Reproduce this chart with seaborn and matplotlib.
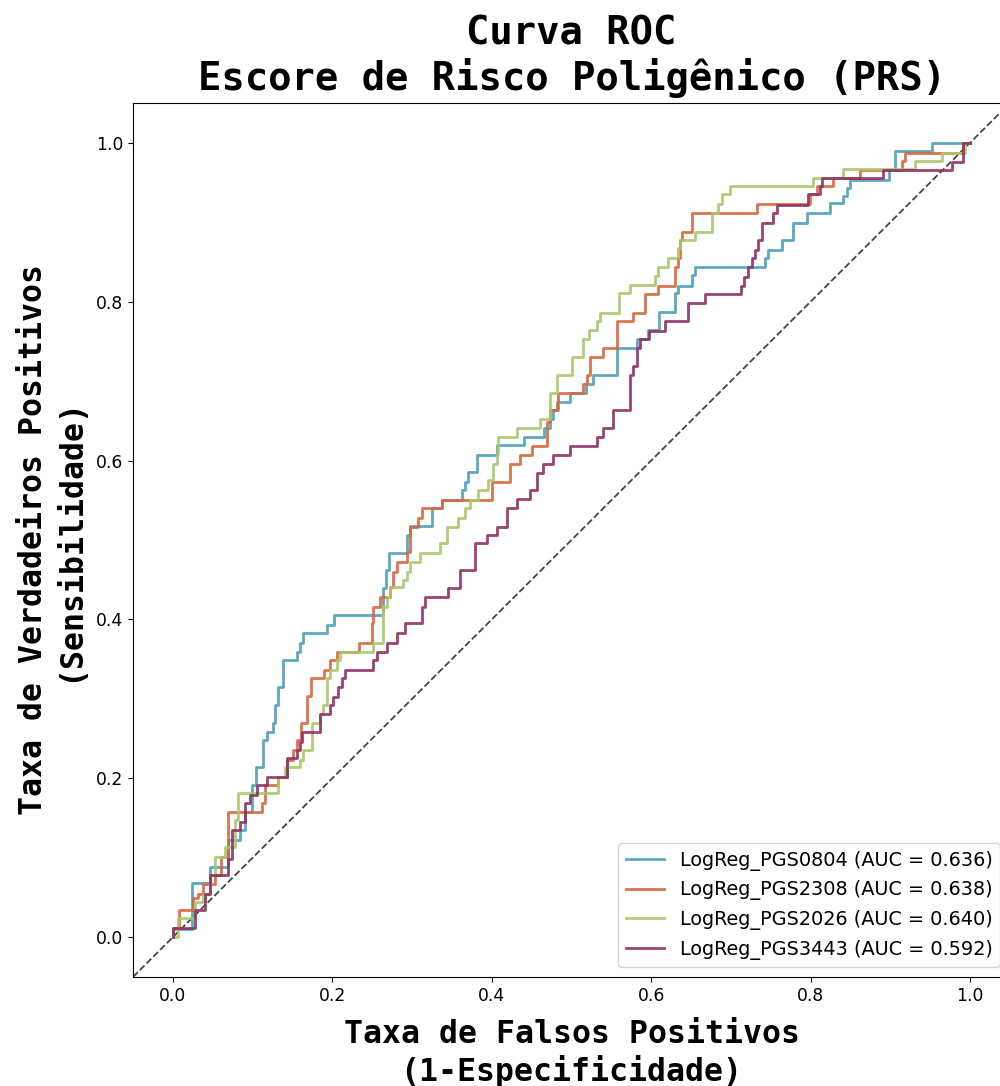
import matplotlib
matplotlib.use("Agg")
import matplotlib.pyplot as plt
import pandas as pd
import seaborn as sns

models = ["LogReg_PGS0804", "LogReg_PGS2308", "LogReg_PGS2026", "LogReg_PGS3443"]
auc_values = [0.636, 0.638, 0.640, 0.592]
colors = ["#4BA0B9", "#D9663B", "#A9C86C", "#8E2F62"]

# ROC staircases: each (fpr, tpr) pair is the right end of a horizontal run;
# the curve climbs vertically at the previous fpr before each run.
fpr_0804 = [0.024, 0.046, 0.069, 0.084, 0.090, 0.099, 0.104, 0.113, 0.118, 0.125,
            0.128, 0.132, 0.138, 0.156, 0.159, 0.163, 0.193, 0.202, 0.263, 0.267,
            0.271, 0.294, 0.297, 0.325, 0.338, 0.363, 0.366, 0.370, 0.381, 0.407,
            0.440, 0.466, 0.473, 0.477, 0.483, 0.498, 0.518, 0.527, 0.557, 0.582,
            0.596, 0.610, 0.630, 0.634, 0.651, 0.655, 0.743, 0.747, 0.764, 0.778,
            0.795, 0.824, 0.841, 0.846, 0.849, 0.898, 0.906, 0.952, 1.000]
tpr_0804 = [0.010, 0.068, 0.089, 0.122, 0.135, 0.157, 0.191, 0.214, 0.248, 0.258,
            0.270, 0.292, 0.315, 0.349, 0.359, 0.370, 0.383, 0.393, 0.406, 0.440,
            0.462, 0.484, 0.506, 0.518, 0.540, 0.550, 0.563, 0.573, 0.586, 0.607,
            0.620, 0.630, 0.641, 0.652, 0.664, 0.674, 0.685, 0.696, 0.708, 0.742,
            0.753, 0.764, 0.787, 0.811, 0.820, 0.834, 0.844, 0.855, 0.865, 0.877,
            0.899, 0.911, 0.924, 0.933, 0.943, 0.953, 0.965, 0.989, 1.000]

fpr_2308 = [0.008, 0.025, 0.031, 0.038, 0.053, 0.061, 0.069, 0.112, 0.115, 0.132,
            0.143, 0.151, 0.156, 0.161, 0.168, 0.173, 0.189, 0.197, 0.206, 0.233,
            0.250, 0.251, 0.260, 0.272, 0.276, 0.281, 0.294, 0.297, 0.307, 0.312,
            0.338, 0.400, 0.423, 0.435, 0.450, 0.469, 0.473, 0.482, 0.483, 0.514,
            0.519, 0.523, 0.540, 0.557, 0.577, 0.592, 0.609, 0.630, 0.634, 0.636,
            0.639, 0.651, 0.733, 0.799, 0.808, 0.828, 0.862, 0.915, 0.918, 0.991,
            1.000]
tpr_2308 = [0.011, 0.034, 0.049, 0.055, 0.067, 0.078, 0.101, 0.157, 0.169, 0.191,
            0.202, 0.223, 0.236, 0.248, 0.270, 0.304, 0.326, 0.336, 0.349, 0.359,
            0.370, 0.395, 0.416, 0.428, 0.441, 0.460, 0.472, 0.485, 0.516, 0.528,
            0.540, 0.550, 0.573, 0.596, 0.607, 0.618, 0.649, 0.664, 0.674, 0.685,
            0.696, 0.708, 0.730, 0.742, 0.775, 0.786, 0.809, 0.820, 0.844, 0.855,
            0.878, 0.888, 0.912, 0.923, 0.935, 0.945, 0.955, 0.965, 0.977, 0.987,
            1.000]

fpr_2026 = [0.006, 0.028, 0.038, 0.046, 0.053, 0.065, 0.078, 0.082, 0.132, 0.141,
            0.159, 0.163, 0.174, 0.184, 0.188, 0.193, 0.197, 0.206, 0.210, 0.251,
            0.263, 0.269, 0.272, 0.289, 0.294, 0.297, 0.310, 0.335, 0.344, 0.358,
            0.366, 0.373, 0.383, 0.395, 0.401, 0.407, 0.408, 0.432, 0.460, 0.473,
            0.482, 0.501, 0.514, 0.522, 0.532, 0.536, 0.560, 0.573, 0.605, 0.609,
            0.621, 0.634, 0.636, 0.655, 0.676, 0.684, 0.689, 0.699, 0.803, 0.841,
            0.931, 0.965, 0.994, 1.000]
tpr_2026 = [0.000, 0.024, 0.044, 0.055, 0.078, 0.101, 0.113, 0.147, 0.181, 0.202,
            0.214, 0.223, 0.236, 0.270, 0.281, 0.292, 0.326, 0.336, 0.349, 0.359,
            0.370, 0.416, 0.428, 0.441, 0.450, 0.460, 0.472, 0.484, 0.496, 0.516,
            0.528, 0.540, 0.550, 0.563, 0.576, 0.596, 0.610, 0.630, 0.641, 0.652,
            0.685, 0.708, 0.730, 0.753, 0.764, 0.775, 0.786, 0.811, 0.821, 0.832,
            0.844, 0.855, 0.868, 0.878, 0.888, 0.912, 0.923, 0.935, 0.945, 0.956,
            0.967, 0.977, 0.987, 1.000]

fpr_3443 = [0.028, 0.040, 0.046, 0.069, 0.074, 0.084, 0.090, 0.097, 0.105, 0.118,
            0.143, 0.156, 0.159, 0.162, 0.184, 0.197, 0.201, 0.207, 0.212, 0.216,
            0.251, 0.256, 0.269, 0.281, 0.291, 0.312, 0.316, 0.345, 0.360, 0.379,
            0.394, 0.407, 0.419, 0.432, 0.448, 0.457, 0.464, 0.477, 0.498, 0.532,
            0.540, 0.552, 0.573, 0.577, 0.582, 0.586, 0.597, 0.617, 0.646, 0.668,
            0.713, 0.716, 0.721, 0.726, 0.730, 0.734, 0.739, 0.753, 0.758, 0.797,
            0.812, 0.814, 0.891, 0.977, 0.991, 1.000]
tpr_3443 = [0.011, 0.034, 0.055, 0.078, 0.099, 0.135, 0.145, 0.169, 0.179, 0.191,
            0.202, 0.225, 0.236, 0.246, 0.258, 0.281, 0.292, 0.302, 0.315, 0.326,
            0.336, 0.349, 0.359, 0.370, 0.383, 0.395, 0.416, 0.428, 0.440, 0.462,
            0.496, 0.506, 0.516, 0.540, 0.552, 0.563, 0.584, 0.596, 0.607, 0.618,
            0.630, 0.641, 0.664, 0.708, 0.719, 0.742, 0.753, 0.763, 0.775, 0.798,
            0.809, 0.820, 0.831, 0.844, 0.855, 0.865, 0.877, 0.899, 0.912, 0.922,
            0.935, 0.945, 0.955, 0.965, 0.976, 1.000]

fpr_lists = [fpr_0804, fpr_2308, fpr_2026, fpr_3443]
tpr_lists = [tpr_0804, tpr_2308, tpr_2026, tpr_3443]

rows = []
for name, auc, fpr, tpr in zip(models, auc_values, fpr_lists, tpr_lists):
    label = f"{name} (AUC = {auc:.3f})"
    rows.append({"fpr": 0.0, "tpr": 0.0, "modelo": label})
    for x, y in zip(fpr, tpr):
        rows.append({"fpr": x, "tpr": y, "modelo": label})
df = pd.DataFrame(rows)

fig = plt.figure(figsize=(10, 10.86), dpi=100)
ax = fig.add_axes([0.133, 0.1004, 0.877, 0.8048])

sns.lineplot(data=df, x="fpr", y="tpr", hue="modelo", palette=colors,
             sort=False, estimator=None, drawstyle="steps-pre",
             linewidth=2, alpha=0.9, ax=ax)

ax.axline((0, 0), slope=1, color="#444444", linestyle="--", linewidth=1.3, zorder=1)

ax.set_xlim(-0.05, 1.05)
ax.set_ylim(-0.05, 1.05)
ax.tick_params(labelsize=12.3)

mono = {"family": "DejaVu Sans Mono", "weight": "bold"}
ax.set_title("Curva ROC\nEscore de Risco Poligênico (PRS)", fontsize=28, pad=9, **mono)
ax.set_xlabel("Taxa de Falsos Positivos\n(1-Especificidade)", fontsize=22.7,
              labelpad=10, **mono)
ax.set_ylabel("Taxa de Verdadeiros Positivos\n(Sensibilidade)", fontsize=22.7,
              labelpad=8, **mono)

handles, labels = ax.get_legend_handles_labels()
for h in handles:
    h.set_linewidth(2)
ax.legend(handles, labels, loc="lower right", fontsize=13.9)

fig.savefig("out.png", dpi=100)
